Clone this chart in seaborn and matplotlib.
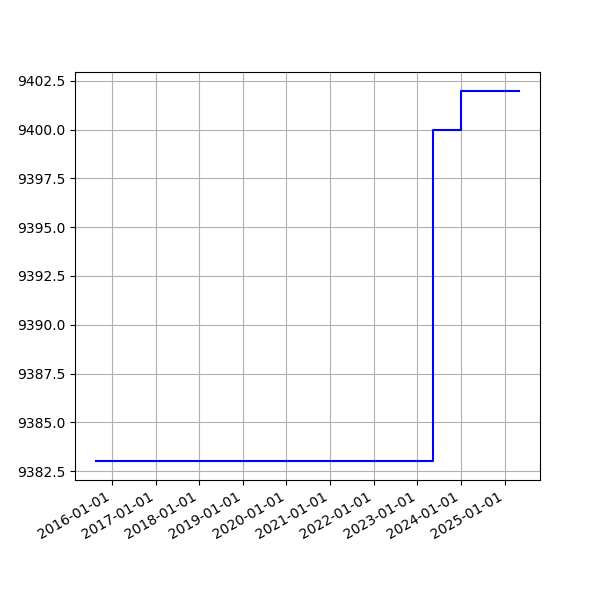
import matplotlib
matplotlib.use("Agg")
import matplotlib.pyplot as plt
import matplotlib.dates as mdates
import pandas as pd
import seaborn as sns

# step points (value holds until next date)
dates = ["2015-08-20", "2023-05-15", "2024-01-05", "2025-05-01"]
values = [9383.0, 9400.0, 9402.0, 9402.0]

df = pd.DataFrame({"date": pd.to_datetime(dates), "value": values})

fig, ax = plt.subplots(figsize=(6, 6), dpi=100)
sns.lineplot(data=df, x="date", y="value", ax=ax, color="blue",
             drawstyle="steps-post", linewidth=1.5)
ax.set_xlabel("")
ax.set_ylabel("")
ax.xaxis.set_major_locator(mdates.YearLocator())
ax.xaxis.set_major_formatter(mdates.DateFormatter("%Y-%m-%d"))
ax.grid(True)
fig.autofmt_xdate()
fig.savefig("out.png")
